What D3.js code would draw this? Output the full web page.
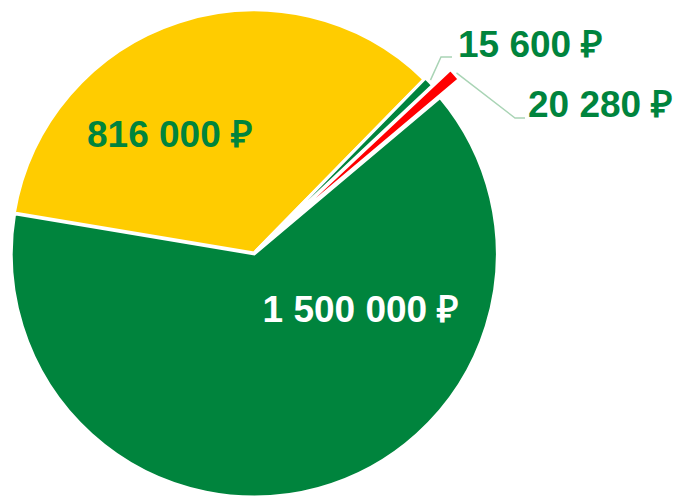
<!DOCTYPE html>
<html>
<head>
<meta charset="utf-8">
<script src="https://cdn.jsdelivr.net/npm/d3@7"></script>
<style>
  body { margin: 0; background: #fff; }
  #chart { width: 679px; height: 496px; }
  text { font-family: "Liberation Sans", Arial, sans-serif; font-weight: bold; }
</style>
</head>
<body>
<div id="chart"></div>
<script>
// slice data, in drawing order (clockwise)
const categories = ['big', 'yellow', 'small', 'red'];
const values = [1500000, 816000, 15600, 20280];
const colors = ['#00843d', '#ffcc00', '#00843d', '#ff0000'];
const explode = [1, 0, 2, 26]; // px pulled out of the pie

const ru = d3.formatLocale({decimal: ',', thousands: '\u00a0', grouping: [3], currency: ['', '\u00a0₽']});
const fmt = ru.format('$,.0f');

renderPie(document.getElementById('chart'));

function renderPie(dom){
  const w = 679, h = 496;
  const cx = 254, cy = 253, r = 243;

  const plot = d3.select(dom).append('svg')
    .attr('width', w)
    .attr('height', h);

  const g = plot.append('g').attr('transform', `translate(${cx},${cy})`);

  // first slice ends on the left at ~279.5deg, so start from there
  const total = d3.sum(values);
  const start = (279.5 - 360 * values[0] / total) * Math.PI / 180;

  const pie = d3.pie().sort(null).startAngle(start).endAngle(start + 2 * Math.PI);
  const arcs = pie(values);
  const arc = d3.arc().innerRadius(0).outerRadius(r);

  const mid = d => (d.startAngle + d.endAngle) / 2;
  const off = (d, k) => [Math.sin(mid(d)) * k, -Math.cos(mid(d)) * k];

  g.selectAll('.slice')
    .data(arcs)
    .enter()
    .append('path')
    .attr('class', 'slice')
    .attr('transform', (d, i) => `translate(${off(d, explode[i])})`)
    .attr('d', arc)
    .style('fill', (d, i) => colors[i])
    .style('stroke', '#fff')
    .style('stroke-width', 3)
    .style('stroke-linejoin', 'miter');

  // labels inside the two big slices
  g.append('text')
    .attr('x', -84).attr('y', -106)
    .attr('text-anchor', 'middle')
    .style('font-size', '37px')
    .style('fill', '#00843d')
    .text(fmt(values[1]));

  g.append('text')
    .attr('x', 107).attr('y', 69)
    .attr('text-anchor', 'middle')
    .style('font-size', '37px')
    .style('fill', '#fff')
    .text(fmt(values[0]));

  // outer labels with leader lines
  const outer = [
    {i: 2, elbow: [187, -196], end: [198, -196], text: [204, -196]},
    {i: 3, elbow: [261, -135], end: [271, -135], text: [274, -136]}
  ];

  outer.forEach(o => {
    const d = arcs[o.i];
    const p = off(d, r + explode[o.i] + 2);
    g.append('polyline')
      .attr('points', [p, o.elbow, o.end].map(q => q.join(',')).join(' '))
      .style('fill', 'none')
      .style('stroke', '#a9d4b5')
      .style('stroke-width', 1.5);
    g.append('text')
      .attr('x', o.text[0]).attr('y', o.text[1])
      .style('font-size', '37px')
      .style('fill', '#00843d')
      .text(fmt(values[o.i]));
  });
}
</script>
</body>
</html>
